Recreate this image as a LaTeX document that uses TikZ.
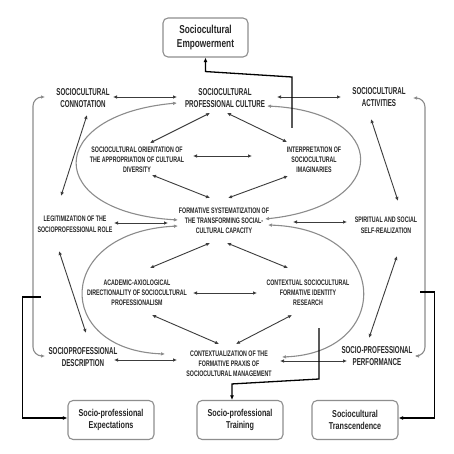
\documentclass[tikz,border=0pt]{standalone}
\usepackage{fontspec}
\usetikzlibrary{arrows.meta,calc}
\newfontfamily\labf[FakeStretch=0.62]{Liberation Sans}
\newfontfamily\labs[FakeStretch=0.66]{Liberation Sans}
\newfontfamily\boxf[FakeStretch=0.72]{Liberation Sans}
\definecolor{txt}{HTML}{262626}
\definecolor{arw}{HTML}{3C3C3C}
\definecolor{crv}{HTML}{8C8C8C}
\definecolor{bdr}{HTML}{8E8E8E}
\begin{document}
\begin{tikzpicture}[x=1pt,y=-1pt,
 big/.style={font=\labf\bfseries\fontsize{10}{12}\selectfont, align=center, text=txt, inner sep=1pt},
 small/.style={font=\labs\bfseries\fontsize{8}{10}\selectfont, align=center, text=txt, inner sep=1pt},
 mid/.style={font=\labs\bfseries\fontsize{8}{11.5}\selectfont, align=center, text=txt, inner sep=1pt},
 tbox/.style={draw=bdr, line width=1.1pt, rounded corners=5pt, fill=white, minimum width=85pt, minimum height=39pt, align=center, text=txt, inner sep=1pt},
 topfont/.style={font=\boxf\bfseries\fontsize{11.5}{14}\selectfont},
 botfont/.style={font=\boxf\bfseries\fontsize{10}{12}\selectfont},
 dbl/.style={{Latex[length=4pt,width=3.6pt]}-{Latex[length=4pt,width=3.6pt]}, draw=arw, line width=0.9pt},
 crvarr/.style={{Latex[length=4pt,width=3.6pt]}-{Latex[length=4pt,width=3.6pt]}, draw=crv, line width=1.1pt},
 blk/.style={-{Latex[length=4.5pt,width=4pt]}, draw=black, line width=1.3pt},
]
\useasboundingbox[fill=white] (0,0) rectangle (453,454);

% boxes
\node[tbox, topfont] (emp) at (205.5,37.5) {Sociocultural\\Empowerment};
\node[tbox, botfont, minimum width=86pt] (exp) at (111,420) {Socio-professional\\Expectations};
\node[tbox, botfont, minimum width=86pt] (tra) at (240,420) {Socio-professional\\Training};
\node[tbox, botfont, minimum width=86pt] (tsc) at (355,420) {Sociocultural\\Transcendence};

% labels
\node[big] (con) at (83,98) {SOCIOCULTURAL\\CONNOTATION};
\node[big] (pc) at (225,98) {SOCIOCULTURAL\\PROFESSIONAL CULTURE};
\node[big] (act) at (379,97) {SOCIOCULTURAL\\ACTIVITIES};
\node[small] (ori) at (137,160) {SOCIOCULTURAL ORIENTATION OF\\THE APPROPRIATION OF CULTURAL\\DIVERSITY};
\node[small] (int) at (314,160) {INTERPRETATION OF\\SOCIOCULTURAL\\IMAGINARIES};
\node[small] (fs) at (224,221) {FORMATIVE SYSTEMATIZATION OF\\THE TRANSFORMING SOCIAL-\\CULTURAL CAPACITY};
\node[mid] (leg) at (75,224) {LEGITIMIZATION OF THE\\SOCIOPROFESSIONAL ROLE};
\node[mid] (spi) at (386,225) {SPIRITUAL AND SOCIAL\\SELF-REALIZATION};
\node[small] (aca) at (137,293) {ACADEMIC-AXIOLOGICAL\\DIRECTIONALITY OF SOCIOCULTURAL\\PROFESSIONALISM};
\node[small] (cre) at (308,293) {CONTEXTUAL SOCIOCULTURAL\\FORMATIVE IDENTITY\\RESEARCH};
\node[small] (ctx) at (229,364) {CONTEXTUALIZATION OF THE\\FORMATIVE PRAXIS OF\\SOCIOCULTURAL MANAGEMENT};
\node[big] (des) at (83,357) {SOCIOPROFESSIONAL\\DESCRIPTION};
\node[big] (per) at (377,356) {SOCIO-PROFESSIONAL\\PERFORMANCE};

% curved ellipse arrows
\draw[crvarr] ($(pc)+(-48,5)$) .. controls ($(pc)+(-181,17)$) and ($(fs)+(-181,-9)$) .. ($(fs)+(-46,-1)$);
\draw[crvarr] ($(pc)+(42,8)$) .. controls ($(pc)+(166,14)$) and ($(fs)+(167,-15)$) .. ($(fs)+(41,-2)$);
\draw[crvarr] ($(fs)+(-46,5)$) .. controls ($(fs)+(-170,11)$) and ($(ctx)+(-176,-14)$) .. ($(ctx)+(-64,-10)$);
\draw[crvarr] ($(fs)+(44,4)$) .. controls ($(fs)+(168,8)$) and ($(ctx)+(163,-11)$) .. ($(ctx)+(53,-7)$);

% outer gray lines
\draw[crvarr, rounded corners=9pt] ($(con)+(-38,-1)$) -| ($(des)+(-50,-1)$) -- ($(des)+(-38,-1)$);
\draw[crvarr, rounded corners=9pt] ($(act)+(34,1)$) -| ($(per)+(48,0)$) -- ($(per)+(38,0)$);

% straight double arrows
\draw[dbl] ($(con)+(30,-1)$) -- ($(pc)+(-48,-1)$);
\draw[dbl] ($(pc)+(52,-1)$) -- ($(act)+(-38,0)$);
\draw[dbl] ($(pc)+(-15,15)$) -- ($(ori)+(13,-17)$);
\draw[dbl] ($(pc)+(2,15)$) -- ($(int)+(-27,-18)$);
\draw[dbl] ($(ori)+(56,-4)$) -- ($(int)+(-62,-4)$);
\draw[dbl] ($(ori)+(15,15)$) -- ($(fs)+(-14,-23)$);
\draw[dbl] ($(int)+(-26,16)$) -- ($(fs)+(4,-23)$);
\draw[dbl] ($(leg)+(39,-1)$) -- ($(fs)+(-56,2)$);
\draw[dbl] ($(fs)+(69,1)$) -- ($(spi)+(-39,-3)$);
\draw[dbl] ($(con)+(4,17)$) -- ($(leg)+(-14,-28)$);
\draw[dbl] ($(act)+(-8,22)$) -- ($(spi)+(12,-24)$);
\draw[dbl] ($(fs)+(-14,22)$) -- ($(aca)+(13,-25)$);
\draw[dbl] ($(fs)+(3,22)$) -- ($(cre)+(-20,-25)$);
\draw[dbl] ($(aca)+(56,0)$) -- ($(cre)+(-51,0)$);
\draw[dbl] ($(aca)+(15,22)$) -- ($(ctx)+(-10,-20)$);
\draw[dbl] ($(cre)+(-16,22)$) -- ($(ctx)+(7,-20)$);
\draw[dbl] ($(leg)+(-16,27)$) -- ($(des)+(3,-24)$);
\draw[dbl] ($(spi)+(11,31)$) -- ($(per)+(-8,-18)$);
\draw[dbl] ($(des)+(31,3)$) -- ($(ctx)+(-52,-4)$);
\draw[dbl] ($(ctx)+(51,-3)$) -- ($(per)+(-30,5)$);

% black connectors
\draw[blk] ($(int)+(-22,-32)$) -- ($(int)+(-22,-83)$) -- ($(emp.south)+(0,14)$) -- (emp.south);
\draw[blk] ($(exp)+(-70,-123)$) -| ($(exp.west)+(-45,-2)$) -- ($(exp.west)+(0,-2)$);
\draw[blk] ($(cre)+(11,35)$) -- ($(cre)+(11,86)$) -- ($(tra.north)+(-8,-16)$) -- ($(tra.north)+(-8,0)$);
\draw[blk] ($(per)+(43,-64)$) -| ($(tsc.east)+(36,-2)$) -- ($(tsc.east)+(0,-2)$);
\end{tikzpicture}
\end{document}
